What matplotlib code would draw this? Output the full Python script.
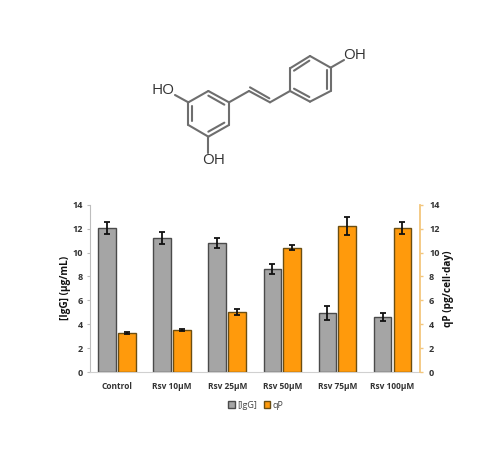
import numpy as np
import matplotlib
matplotlib.use('Agg')
import matplotlib.pyplot as plt
from matplotlib.patches import Patch

plt.rcParams['font.family'] = ['Open Sans', 'DejaVu Sans']

# Values
categories = ['Control', 'Rsv 10µM', 'Rsv 25µM', 'Rsv 50µM', 'Rsv 75µM', 'Rsv 100µM']
igg = [12.05, 11.2, 10.8, 8.6, 4.95, 4.6]
igg_err = [0.5, 0.5, 0.45, 0.4, 0.6, 0.3]
qp = [3.25, 3.55, 5.05, 10.4, 12.2, 12.05]
qp_err = [0.1, 0.08, 0.25, 0.22, 0.75, 0.5]
ticks = [0, 2, 4, 6, 8, 10, 12, 14]

W, H = 496, 453
fig = plt.figure(figsize=(W / 100, H / 100), dpi=100)

# Molecule drawn in pixel coordinates of the picture
mol = fig.add_axes([0, 0, 1, 1])
mol.set_xlim(0, W)
mol.set_ylim(H, 0)
mol.axis('off')


def zx(v):
    return 130 + v / 3


def zy(v):
    return 30 + v / 3


bonds = [
    (235, 183, 297, 217), (297, 217, 297, 285), (297, 285, 235, 320),
    (235, 320, 175, 285), (175, 285, 175, 217), (175, 217, 235, 183),
    (175, 217, 135, 195), (235, 320, 235, 368),
    (297, 217, 357, 183), (357, 183, 420, 217), (420, 217, 480, 183),
    (480, 183, 480, 115), (480, 115, 540, 78), (540, 78, 602, 113),
    (602, 113, 602, 183), (602, 183, 540, 215), (540, 215, 480, 183),
    (602, 113, 642, 90),
    # inner lines of the double bonds
    (235, 197, 283, 224), (283, 278, 235, 305), (187, 272, 187, 228),
    (360, 172, 418, 205),
    (492, 122, 538, 92), (590, 120, 590, 176), (492, 176, 538, 201),
]
for x0, y0, x1, y1 in bonds:
    mol.plot([zx(x0), zx(x1)], [zy(y0), zy(y1)], color='#6e6e6e', lw=1.5,
             solid_capstyle='round')

for txt, x, y in [('HO', 100, 183), ('OH', 251, 393), ('OH', 675, 77)]:
    mol.text(zx(x), zy(y), txt, fontsize=11, color='#333333', ha='center', va='center')

# Bar chart
ax = fig.add_axes([89.5 / W, 1 - 372 / H, 330.5 / W, 167.3 / H])
ax.patch.set_alpha(0)
ax2 = ax.twinx()

x = np.arange(len(categories))
w = 0.32
off = 0.18
err_kw = dict(ecolor='#111111', elinewidth=1.3, capsize=2.2, capthick=1.3)
ax.bar(x - off, igg, w, yerr=igg_err, color='#a5a5a5', edgecolor='#4a4a4a', lw=1, error_kw=err_kw)
ax2.bar(x + off, qp, w, yerr=qp_err, color='#ff9a0c', edgecolor='#6b4e12', lw=1, error_kw=err_kw)

ax.set_xlim(-0.5, 5.5)
ax.set_ylim(0, 14)
ax2.set_ylim(0, 14)
ax.set_yticks(ticks)
ax2.set_yticks(ticks)
ax.set_xticks(x)
ax.set_xticklabels(categories, fontsize=6.0, fontweight='bold', color='#333333')
ax.tick_params(axis='x', length=0, pad=7)
ax.tick_params(axis='y', length=2.5, width=0.8, color='#bdbdbd', labelsize=6.6,
               labelcolor='#333333', pad=2.5)
ax2.tick_params(axis='y', length=2.5, width=1, color='#f3c67c', labelsize=6.6,
                labelcolor='#333333', pad=4)
for lab in ax.get_yticklabels() + ax2.get_yticklabels():
    lab.set_fontweight('bold')

for a in (ax, ax2):
    a.spines['top'].set_visible(False)
ax.spines['right'].set_visible(False)
ax.spines['left'].set_color('#bdbdbd')
ax.spines['bottom'].set_color('#d0d0d0')
ax2.spines['left'].set_visible(False)
ax2.spines['bottom'].set_visible(False)
ax2.spines['right'].set_color('#f3c67c')
ax2.spines['right'].set_linewidth(1.3)

ax.set_ylabel('[IgG] (µg/mL)', fontsize=7.2, fontweight='bold', color='#111111', labelpad=1)
ax2.set_ylabel('qP (pg/cell·day)', fontsize=7.2, fontweight='bold', color='#111111', labelpad=2.5)

handles = [Patch(facecolor='#a5a5a5', edgecolor='#4a4a4a', label='[IgG]'),
           Patch(facecolor='#ff9a0c', edgecolor='#6b4e12', label='qP')]
fig.legend(handles=handles, loc='center', bbox_to_anchor=(256 / W, 1 - 405 / H), ncol=2,
           frameon=False, fontsize=6.5, handlelength=0.7, handleheight=0.7,
           handletextpad=0.3, columnspacing=0.7, labelcolor='#444444')

fig.savefig('out.png', dpi=100)
